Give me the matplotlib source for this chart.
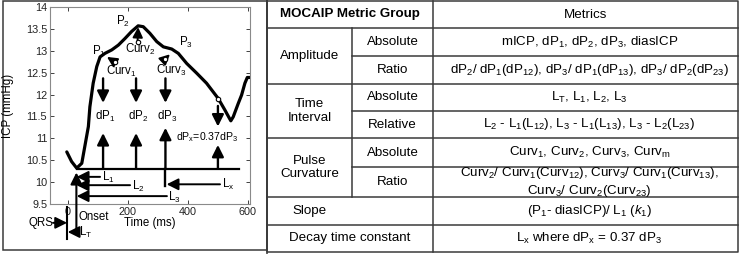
import matplotlib
matplotlib.use('Agg')
import matplotlib.pyplot as plt
from matplotlib.patches import Rectangle

plt.rcParams['font.family'] = ['Liberation Sans', 'DejaVu Sans']
plt.rcParams['mathtext.fontset'] = 'custom'
plt.rcParams['mathtext.rm'] = 'Liberation Sans'
plt.rcParams['mathtext.it'] = 'Liberation Sans:italic'
plt.rcParams['mathtext.bf'] = 'Liberation Sans:bold'

# ---------------- data ----------------
time_ms = [-4, 12, 29, 46, 57, 68, 73, 84, 96, 107, 123, 146, 168, 190, 212, 234,
           251, 273, 296, 318, 346, 368, 396, 429, 462, 501, 523, 543, 551, 568,
           579, 590, 598, 607]
icp_mmHg = [10.69, 10.47, 10.32, 10.43, 10.85, 11.27, 11.72, 12.26, 12.64, 12.86,
            12.94, 13.02, 13.13, 13.28, 13.44, 13.57, 13.55, 13.40, 13.21, 13.09,
            13.04, 12.94, 12.71, 12.49, 12.26, 11.91, 11.65, 11.40, 11.49, 11.80,
            11.99, 12.26, 12.39, 12.39]

x_ticks = [0, 200, 400, 600]
y_ticks = [9.5, 10, 10.5, 11, 11.5, 12, 12.5, 13, 13.5, 14]
y_tick_labels = ['9.5', '10', '10.5', '11', '11.5', '12', '12.5', '13', '13.5', '14']

diastolic_icp = 10.31
onset_ms = 28
qrs_ms = -2

# curvature points (circle) and arrow tips
curv_circle_t = [157, 232, 323]
curv_circle_p = [12.74, 13.21, 12.81]
curv_tip_t = [130, 234, 340]
curv_tip_p = [12.86, 13.54, 12.92]
curv_labels = ['Curv$_1$', 'Curv$_2$', 'Curv$_3$']
curv_label_t = [177, 240, 343]
curv_label_p = [12.52, 13.04, 12.54]

peak_labels = ['P$_1$', 'P$_2$', 'P$_3$']
peak_label_t = [102, 183, 393]
peak_label_p = [12.99, 13.68, 13.18]

dp_t = [117, 227, 325]
dp_labels = ['dP$_1$', 'dP$_2$', 'dP$_3$']
dp_label_p = 11.49
dp_up_top = [11.12, 11.12, 11.24]

dpx_t = 500
dpx_p = 11.89

L_labels = ['L$_1$', 'L$_2$', 'L$_3$']
L_end_t = [107, 207, 330]
L_level = [10.12, 9.93, 9.68]
Lx_level = 9.95
Lx_end_t = 507

# ---------------- table content ----------------
groups = ['Amplitude', 'Time\nInterval', 'Pulse\nCurvature']
subgroups = ['Absolute', 'Ratio', 'Absolute', 'Relative', 'Absolute', 'Ratio']
metrics = [
    'mICP, dP$_1$, dP$_2$, dP$_3$, diasICP',
    'dP$_2$/ dP$_1$(dP$_{12}$), dP$_3$/ dP$_1$(dP$_{13}$), dP$_3$/ dP$_2$(dP$_{23}$)',
    'L$_\\mathrm{T}$, L$_1$, L$_2$, L$_3$',
    'L$_2$ - L$_1$(L$_{12}$), L$_3$ - L$_1$(L$_{13}$), L$_3$ - L$_2$(L$_{23}$)',
    'Curv$_1$, Curv$_2$, Curv$_3$, Curv$_\\mathrm{m}$',
    'Curv$_2$/ Curv$_1$(Curv$_{12}$), Curv$_3$/ Curv$_1$(Curv$_{13}$),\nCurv$_3$/ Curv$_2$(Curv$_{23}$)',
]
single_rows = ['Slope', 'Decay time constant']
single_metrics = ['(P$_1$- diasICP)/ L$_1$ ($k_1$)',
                  'L$_\\mathrm{x}$ where dP$_\\mathrm{x}$ = 0.37 dP$_3$']

# ---------------- figure ----------------
W, H = 740, 254
fig = plt.figure(figsize=(W / 100, H / 100), dpi=100)
tax = fig.add_axes([0, 0, 1, 1], zorder=0)
tax.set_xlim(0, W)
tax.set_ylim(H, 0)
tax.axis('off')

lc = '#3a3a3a'
lw_t = 1.1
fs_t = 9.6

# left panel frame
tax.add_patch(Rectangle((3, 1), 264, 249, fill=False, ec=lc, lw=lw_t))

# table geometry (pixels)
xL, xS, xM, xR = 267, 352, 433, 738
row_y = [1, 28, 56, 84, 111, 138, 167, 197, 225, 252]
tax.plot([xL, xR, xR, xL, xL], [row_y[0], row_y[0], row_y[-1], row_y[-1], row_y[0]],
         color=lc, lw=lw_t)
tax.plot([xL, xL], [0, H], color=lc, lw=lw_t)
for y in row_y[1:-1]:
    x0 = xS if y in (56, 111, 167) else xL
    tax.plot([x0, xR], [y, y], color=lc, lw=lw_t)
tax.plot([xM, xM], [row_y[0], row_y[-1]], color=lc, lw=lw_t)
tax.plot([xS, xS], [row_y[1], row_y[7]], color=lc, lw=lw_t)

# header
tax.text((xL + xM) / 2, 14.5, 'MOCAIP Metric Group', ha='center', va='center',
         fontsize=fs_t, fontweight='bold')
tax.text((xM + xR) / 2, 14.5, 'Metrics', ha='center', va='center', fontsize=fs_t)

for i, g in enumerate(groups):
    y0, y1 = row_y[1 + 2 * i], row_y[3 + 2 * i]
    tax.text((xL + xS) / 2, (y0 + y1) / 2, g, ha='center', va='center',
             fontsize=fs_t, linespacing=1.15)
for j, (s, m) in enumerate(zip(subgroups, metrics)):
    y0, y1 = row_y[1 + j], row_y[2 + j]
    tax.text((xS + xM) / 2, (y0 + y1) / 2, s, ha='center', va='center', fontsize=fs_t)
    tax.text((xM + xR) / 2 + 4, (y0 + y1) / 2, m, ha='center', va='center',
             fontsize=fs_t, multialignment='center', linespacing=1.2)
single_x = [(xL + xS) / 2, (xL + xM) / 2]
for k, (s, m) in enumerate(zip(single_rows, single_metrics)):
    y0, y1 = row_y[7 + k], row_y[8 + k]
    tax.text(single_x[k], (y0 + y1) / 2, s, ha='center', va='center', fontsize=fs_t)
    tax.text((xM + xR) / 2 + 4, (y0 + y1) / 2, m, ha='center', va='center', fontsize=fs_t)

# ---------------- plot ----------------
ax = fig.add_axes([50 / W, 1 - 204 / H, 200 / W, 197 / H], zorder=1)
ax.patch.set_alpha(0)
ax.plot(time_ms, icp_mmHg, color='k', lw=2.3, solid_capstyle='round',
        solid_joinstyle='round')
ax.set_xlim(-60, 607)
ax.set_ylim(9.5, 14)
ax.set_xticks(x_ticks)
ax.set_yticks(y_ticks)
ax.set_yticklabels(y_tick_labels)
ax.tick_params(direction='in', top=True, right=True, length=3, width=0.6,
               labelsize=7.8, pad=2, colors='#222222')
for sp in ax.spines.values():
    sp.set_color('#8a8a8a')
    sp.set_linewidth(0.8)
ax.set_xlabel('Time (ms)', fontsize=8.3, labelpad=0.5)
ax.set_ylabel('ICP (mmHg)', fontsize=8.3)
ax.yaxis.set_label_coords(-0.178, 0.5)

fs_p = 8.3
tf = dict(fontsize=fs_p)
ap = dict(arrowstyle='-|>,head_length=0.5,head_width=0.25', color='k', lw=1.7,
          shrinkA=0, shrinkB=0, mutation_scale=14)

def arrow(x0, y0, x1, y1, **kw):
    props = dict(ap)
    props.update(kw)
    ax.annotate('', xy=(x1, y1), xytext=(x0, y0), arrowprops=props,
                annotation_clip=False)

# peaks / curvature
for lab, t, p in zip(peak_labels, peak_label_t, peak_label_p):
    ax.text(t, p, lab, ha='center', va='center', **tf)
for lab, t, p in zip(curv_labels, curv_label_t, curv_label_p):
    ax.text(t, p, lab, ha='center', va='center', **tf)
for t0, p0, t1, p1 in zip(curv_circle_t, curv_circle_p, curv_tip_t, curv_tip_p):
    arrow(t0, p0, t1, p1, lw=1.4, mutation_scale=12)
ax.plot(curv_circle_t + [dpx_t], curv_circle_p + [dpx_p], 'o', ms=3.2, mfc='white',
        mec='k', mew=0.8, zorder=5)

# baseline
ax.plot([onset_ms + 1, 571], [diastolic_icp, diastolic_icp], color='k', lw=1.6)

# dP arrows
for t, lab, top in zip(dp_t, dp_labels, dp_up_top):
    arrow(t, 12.37, t, 11.81)
    arrow(t, diastolic_icp, t, top)
    ax.text(t + 6, dp_label_p, lab, ha='center', va='center', **tf)
# dP3 line extends to Lx
ax.plot([dp_t[2], dp_t[2]], [Lx_level - 0.03, diastolic_icp], color='k', lw=1.7)
# dPx
arrow(dpx_t, 11.74, dpx_t, 11.27)
arrow(dpx_t, diastolic_icp, dpx_t, 10.85)
ax.text(463, 11.02, 'dP$_\\mathrm{x}$=0.37dP$_3$', ha='center', va='center',
        fontsize=7.6)

# L arrows
for lab, te, lv in zip(L_labels, L_end_t, L_level):
    arrow(te, lv, onset_ms + 1, lv, lw=1.4)
    ax.text(te + 5, lv - 0.02, lab, ha='left', va='center', **tf)
arrow(Lx_end_t, Lx_level, dp_t[2] + 4, Lx_level, lw=1.4)
ax.text(Lx_end_t + 6, Lx_level, 'L$_\\mathrm{x}$', ha='left', va='center', **tf)

# onset / QRS
arrow(onset_ms, 8.9, onset_ms, 10.22, lw=1.5)
ax.text(onset_ms + 8, 9.2, 'Onset', ha='left', va='center', **tf)
ax.plot([qrs_ms, qrs_ms], [9.43, 8.7], color='k', lw=1.5, clip_on=False)
arrow(-50, 9.07, qrs_ms - 1, 9.07, lw=1.4)
ax.text(-49, 9.07, 'QRS', ha='right', va='center', **tf)
arrow(onset_ms, 8.86, qrs_ms + 1, 8.86, lw=1.4)
ax.text(onset_ms + 8, 8.86, 'L$_\\mathrm{T}$', ha='left', va='center', **tf)

fig.savefig('out.png', dpi=100)
